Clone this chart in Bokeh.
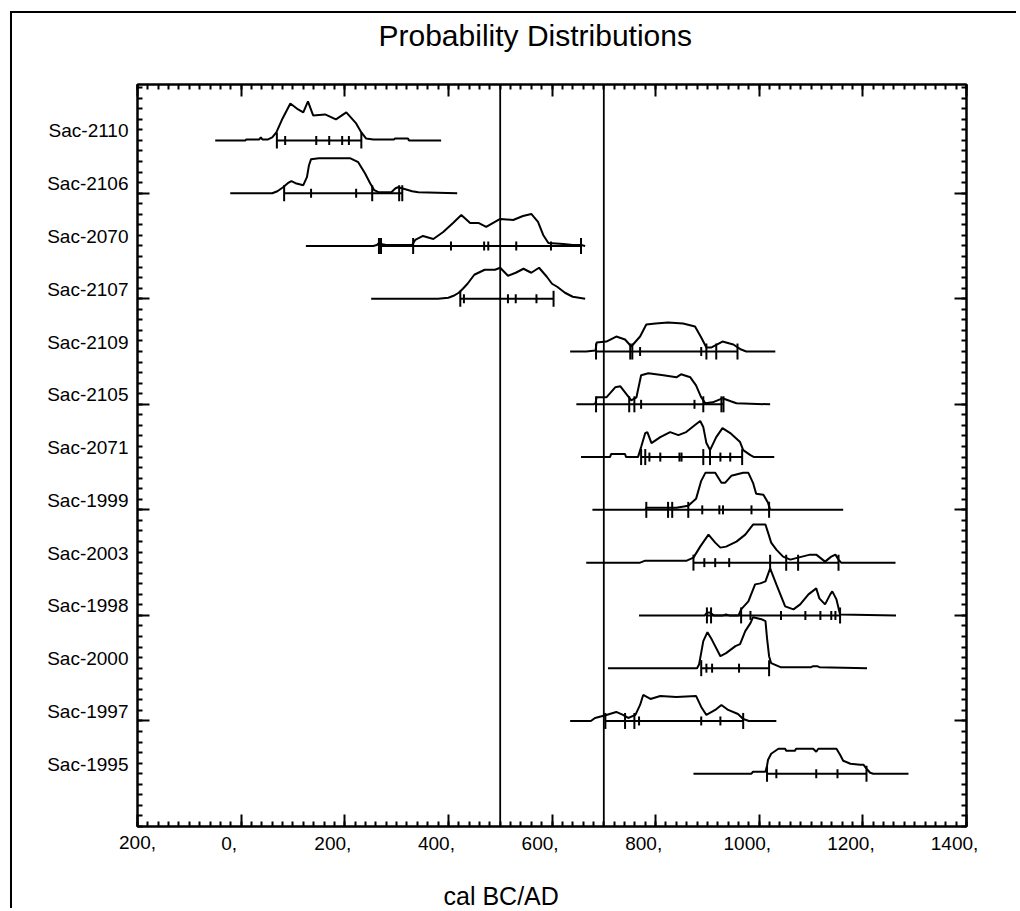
import numpy as np
from bokeh.plotting import figure
from bokeh.models import Range1d, LinearAxis, FixedTicker, Span, Title
from bokeh.embed import file_html
from bokeh.resources import INLINE

# ---------------- data ----------------
samples = ["Sac-2110", "Sac-2106", "Sac-2070", "Sac-2107", "Sac-2109", "Sac-2105",
           "Sac-2071", "Sac-1999", "Sac-2003", "Sac-1998", "Sac-2000", "Sac-1997", "Sac-1995"]

range_start = [-50, -21, 125, 251, 635, 647, 656, 678, 666, 768, 708, 635, 873]
range_end = [386, 417, 664, 664, 1031, 1021, 1029, 1162, 1263, 1264, 1208, 1033, 1288]

curve_x = [
    [8, 10, 35, 38, 41, 52, 60, 68, 80, 95, 110, 120, 129, 139, 162, 183, 203, 222, 232, 241, 255, 295, 297, 322, 324],
    [60, 70, 81, 90, 97, 105, 120, 127, 131, 135, 150, 180, 210, 226, 239, 249, 257, 265, 290, 298, 303, 310, 317, 330, 342],
    [255, 262, 266, 270, 280, 330, 336, 351, 371, 390, 409, 425, 442, 458, 473, 500, 525, 544, 560, 573, 583, 593, 622, 640, 656],
    [380, 400, 410, 420, 428, 437, 450, 470, 490, 500, 515, 530, 545, 560, 575, 590, 600, 610, 625, 640],
    [666, 684, 686, 705, 724, 741, 753, 770, 782, 800, 824, 853, 876, 888, 898, 907, 929, 950, 965, 975],
    [680, 684, 686, 705, 722, 732, 741, 753, 763, 772, 786, 815, 840, 849, 867, 878, 888, 896, 910, 929, 945, 956],
    [712, 714, 741, 743, 766, 772, 780, 784, 792, 809, 828, 844, 859, 876, 886, 892, 898, 905, 917, 929, 944, 963, 969, 983, 990],
    [780, 782, 815, 840, 863, 878, 888, 896, 915, 927, 934, 946, 969, 979, 988, 994, 1008, 1017, 1021],
    [770, 780, 800, 809, 860, 873, 886, 902, 915, 925, 936, 956, 973, 988, 1012, 1017, 1023, 1033, 1046, 1060, 1075, 1098, 1110, 1127, 1139, 1147, 1153, 1158],
    [895, 898, 903, 907, 912, 930, 936, 942, 960, 965, 979, 992, 1002, 1012, 1021, 1033, 1050, 1066, 1079, 1095, 1110, 1116, 1127, 1137, 1141, 1149, 1156],
    [880, 884, 892, 900, 907, 925, 936, 954, 963, 973, 983, 988, 1004, 1012, 1015, 1019, 1023, 1041, 1100, 1104, 1112, 1116],
    [675, 683, 705, 724, 737, 747, 761, 770, 776, 790, 809, 840, 878, 888, 898, 915, 927, 940, 959, 969, 980],
    [985, 988, 1012, 1015, 1017, 1023, 1037, 1050, 1052, 1069, 1071, 1104, 1110, 1114, 1149, 1156, 1162, 1176, 1195, 1201, 1207, 1214, 1220],
]
curve_h = [
    [0, 1, 1, 3, 1, 1, 3, 8, 22, 37, 31, 28, 39, 25, 26, 21, 28, 17, 8, 2, 1, 1, 2, 2, 0],
    [0, 2, 6, 10, 12, 10, 8, 16, 28, 34, 35, 35, 35, 31, 20, 10, 3, 1, 1, 5, 6, 5, 4, 2, 1],
    [0, 1, 3, 2, 1, 1, 6, 10, 7, 14, 23, 31, 23, 23, 19, 27, 26, 30, 32, 24, 11, 3, 2, 1, 1],
    [0, 1, 3, 6, 10, 15, 24, 29, 29, 31, 23, 26, 30, 26, 31, 22, 15, 12, 6, 2],
    [0, 1, 9, 10, 15, 12, 5, 15, 27, 28, 29, 28, 25, 14, 4, 4, 10, 7, 2, 0],
    [0, 1, 7, 7, 17, 18, 12, 4, 7, 29, 31, 29, 27, 30, 27, 19, 7, 1, 2, 6, 3, 1],
    [0, 3, 3, 0, 0, 10, 24, 25, 14, 20, 25, 22, 25, 32, 36, 30, 14, 7, 20, 29, 24, 15, 7, 2, 0],
    [0, 2, 2, 2, 4, 11, 29, 37, 37, 27, 27, 34, 37, 37, 27, 16, 15, 7, 0],
    [0, 2, 2, 2, 2, 5, 16, 28, 20, 15, 16, 21, 28, 38, 38, 30, 20, 13, 6, 3, 5, 8, 8, 1, 6, 8, 3, 0],
    [0, 2, 3, 2, 0, 0, 1, 0, 0, 6, 14, 31, 32, 34, 47, 31, 9, 6, 11, 21, 27, 17, 11, 21, 24, 16, 1],
    [0, 4, 27, 36, 30, 12, 15, 22, 24, 37, 45, 51, 49, 47, 30, 12, 5, 1, 1, 2, 2, 1],
    [0, 3, 6, 9, 6, 3, 6, 16, 26, 22, 25, 24, 25, 14, 6, 11, 16, 11, 7, 2, 0],
    [0, 2, 2, 8, 14, 20, 25, 25, 23, 23, 25, 25, 22, 25, 25, 19, 13, 10, 9, 9, 5, 1, 0],
]

tall_ticks = [
    [69, 232],
    [83, 253, 305, 311],
    [266, 270, 332, 656],
    [423, 603],
    [685, 751, 755, 898, 917, 958],
    [685, 749, 759, 892, 927, 931],
    [772, 780, 892, 905, 967],
    [782, 824, 832, 863, 1019],
    [873, 1021, 1052, 1075, 1153],
    [899, 907, 965, 1156],
    [888, 1019],
    [703, 741, 759, 969],
    [1015, 1207],
]
short_ticks = [
    [85, 145, 170, 195, 208],
    [135, 222],
    [405, 469, 477, 531, 598],
    [430, 515, 530, 570],
    [770, 888],
    [772, 875],
    [788, 809, 846, 850, 925, 944],
    [890, 923, 930, 985],
    [894, 915, 942],
    [983, 1042, 1089, 1118, 1139, 1147],
    [898, 909, 961],
    [768, 888, 925],
    [1033, 1110, 1151],
]

boundaries = [500, 700]
x_ticks = [-200, 0, 200, 400, 600, 800, 1000, 1200, 1400]
x_tick_labels = ["200,", "0,", "200,", "400,", "600,", "800,", "1000,", "1200,", "1400,"]
title_text = "Probability Distributions"
x_title = "cal BC/AD"

# ---------------- build ----------------
FONT = "Liberation Sans"
n = len(samples)
row_y = [n - 1 - i for i in range(n)]
k = 1.0 / 52.75  # curve height scale (row spacing units)
Y0, Y1 = -1.0, 13.06
X0, X1 = -200, 1400

xs, ys = [], []
for i in range(n):
    xs.append([range_start[i]] + curve_x[i] + [range_end[i]])
    ys.append([row_y[i]] + [row_y[i] + h * k for h in curve_h[i]] + [row_y[i]])

p = figure(width=1006, height=897,
           x_range=Range1d(X0, X1), y_range=Range1d(Y0, Y1),
           output_backend="svg", toolbar_location=None,
           min_border_left=125, min_border_right=52,
           min_border_top=71, min_border_bottom=84)

p.title.text = title_text
p.title.text_font = FONT
p.title.text_font_size = "30px"
p.title.text_font_style = "normal"
p.title.text_color = "black"
p.title.align = "left"
p.title.offset = 241
p.title.vertical_align = "top"
p.title.standoff = 6

p.outline_line_color = "black"
p.outline_line_width = 2
p.xgrid.visible = False
p.ygrid.visible = False
p.background_fill_color = "white"
p.border_fill_color = "white"

minor_x = list(range(X0, X1 + 1, 20))
LABEL_PX = 19


def tick_axis(ax, ticks, minors):
    ax.ticker = FixedTicker(ticks=ticks, minor_ticks=minors)
    ax.major_label_overrides = {t: "" for t in ticks}
    ax.major_label_standoff = 0
    ax.major_tick_in = 12
    ax.major_tick_out = 0
    ax.minor_tick_in = 5
    ax.minor_tick_out = 0
    ax.axis_line_width = 2
    ax.axis_line_color = "black"
    ax.major_tick_line_width = 2
    ax.minor_tick_line_width = 2
    ax.major_tick_line_color = "black"
    ax.minor_tick_line_color = "black"


def spacer_axis(size):
    # an invisible axis that only reserves space between the frame and a caption
    return LinearAxis(ticker=FixedTicker(ticks=[0], minor_ticks=[]),
                      major_label_overrides={0: ""}, major_label_standoff=0,
                      major_tick_in=0, major_tick_out=size, minor_tick_in=0, minor_tick_out=0,
                      axis_line_color=None, major_tick_line_color=None,
                      minor_tick_line_color=None)


# x axes: ticks bottom & top; bottom axis carries the first (frame-edge) label
xa = p.xaxis[0]
tick_axis(xa, x_ticks, minor_x)
xa.major_label_overrides = {t: (x_tick_labels[0] if t == x_ticks[0] else "") for t in x_ticks}
xa.major_label_text_font = FONT
xa.major_label_text_font_size = f"{LABEL_PX}px"
xa.major_label_text_color = "black"
xa.major_label_standoff = 9
ta = LinearAxis()
tick_axis(ta, x_ticks, minor_x)
p.above = [ta, spacer_axis(28)]

# remaining x tick labels: own axis, nudged left a little as in the reference
shift = 23
p.extra_x_ranges = {"lab": Range1d(X0 + shift, X1 + shift)}
la = LinearAxis(x_range_name="lab",
                ticker=FixedTicker(ticks=x_ticks[1:], minor_ticks=[]),
                major_label_overrides=dict(zip(x_ticks[1:], x_tick_labels[1:])),
                axis_line_color=None, major_tick_line_color=None, minor_tick_line_color=None,
                major_tick_in=0, major_tick_out=0,
                major_label_text_font=FONT, major_label_text_font_size=f"{LABEL_PX}px",
                major_label_text_color="black", major_label_standoff=-15)

# x caption below the axis
cap = Title(text=x_title, align="left", offset=306, vertical_align="bottom", standoff=0,
            text_font=FONT, text_font_size="25px", text_font_style="normal", text_color="black")
p.below = [xa, la, spacer_axis(27), cap]

# y axes: ticks on both sides
y_major = [1, 3, 5, 7, 9, 11]
y_minor = [round(v, 1) for v in np.arange(-1.0, 13.05, 0.2)]
tick_axis(p.yaxis[0], y_major, y_minor)
ra = LinearAxis()
tick_axis(ra, y_major, y_minor)
p.add_layout(ra, "right")

# sample names axis (labels sit slightly above each baseline)
p.extra_y_ranges = {"names": Range1d(Y0 - 0.18, Y1 - 0.18)}
na = LinearAxis(y_range_name="names",
                ticker=FixedTicker(ticks=row_y, minor_ticks=[]),
                major_label_overrides={row_y[i]: samples[i] for i in range(n)},
                axis_line_color=None, major_tick_line_color=None, minor_tick_line_color=None,
                major_label_text_font=FONT, major_label_text_font_size="19px",
                major_label_text_color="black", major_label_standoff=3)
p.add_layout(na, "left")

# boundaries
for b in boundaries:
    p.add_layout(Span(location=b, dimension="height", line_color="black", line_width=1.8))

# distributions
p.multi_line(xs, ys, line_color="black", line_width=2)

# range bars and ticks
bx0 = [min(t) for t in tall_ticks]
bx1 = [max(t) for t in tall_ticks]
p.segment(bx0, row_y, bx1, row_y, line_color="black", line_width=2)

tx, ty, sx, sy = [], [], [], []
for i in range(n):
    tx += tall_ticks[i]
    ty += [row_y[i]] * len(tall_ticks[i])
    sx += short_ticks[i]
    sy += [row_y[i]] * len(short_ticks[i])
p.scatter(tx, ty, marker="dash", angle=np.pi / 2, size=16, line_color="black", line_width=2)
p.scatter(sx, sy, marker="dash", angle=np.pi / 2, size=9, line_color="black", line_width=2)

p.styles = {"margin-left": "10px", "margin-top": "11px",
            "border-left": "2px solid black", "border-top": "2px solid black"}

open("out.html", "w").write(file_html(p, INLINE))
